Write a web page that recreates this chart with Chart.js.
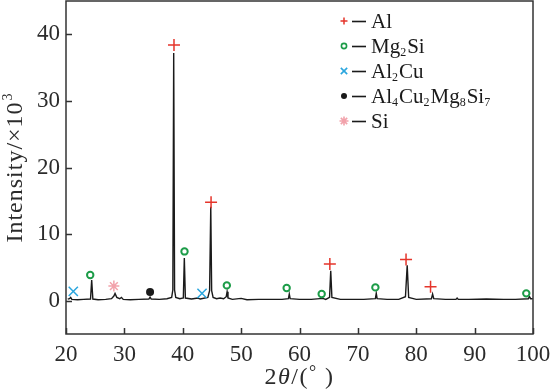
<!DOCTYPE html>
<html>
<head>
<meta charset="utf-8">
<script src="https://cdn.jsdelivr.net/npm/chart.js@4"></script>
<style>
  html, body { margin: 0; padding: 0; background: #fff; }
  #wrap { width: 553px; height: 391px; }
</style>
</head>
<body>
<div id="wrap"><canvas id="chart"></canvas></div>
<script>
// XRD trace
const twoTheta = [20.3, 20.6, 20.8, 21.0, 22.0, 23.0, 24.2, 24.4, 24.6, 25.5, 26.8, 27.8, 28.2, 28.4, 28.7, 29.2, 29.5, 29.8,
  31.0, 32.5, 34.2, 34.4, 34.6, 36.0, 37.3, 38.1, 38.3, 38.45, 38.6, 38.8, 39.5, 40.1, 40.27, 40.45, 41.5, 42.6, 43.0,
  44.3, 44.6, 44.8, 44.95, 45.2, 45.8, 46.4, 47.0, 47.45, 47.6, 47.75, 48.5, 50.0, 51.0, 53.0, 55.0, 57.0, 58.1, 58.25, 58.4,
  60.0, 62.0, 64.0, 64.5, 65.15, 65.35, 65.55, 67.0, 69.0, 71.0, 73.0, 73.15, 73.3, 75.0, 77.0, 78.15, 78.45, 78.7, 80.0,
  82.6, 82.8, 83.0, 85.0, 86.8, 87.0, 87.2, 89.0, 92.0, 95.0, 97.0, 99.2, 99.4, 99.6, 99.95]
const intensity = [0.25, 0.3, 0.5, 0.2, 0.15, 0.2, 0.25, 3.1, 0.25, 0.15, 0.2, 0.3, 0.7, 1.1, 0.5, 0.3, 0.5, 0.2,
  0.15, 0.2, 0.25, 0.55, 0.25, 0.2, 0.3, 0.5, 1.6, 37.2, 1.6, 0.5, 0.3, 0.4, 6.4, 0.4, 0.25, 0.4, 0.25,
  0.5, 1.5, 14.1, 1.5, 0.5, 0.3, 0.4, 0.3, 0.6, 1.35, 0.4, 0.2, 0.35, 0.15, 0.2, 0.2, 0.2, 0.3, 1.0, 0.3,
  0.2, 0.2, 0.35, 0.2, 0.5, 4.5, 0.5, 0.2, 0.2, 0.2, 0.3, 1.1, 0.3, 0.2, 0.2, 0.6, 5.3, 0.5, 0.2,
  0.3, 1.0, 0.3, 0.2, 0.2, 0.4, 0.2, 0.2, 0.25, 0.2, 0.2, 0.3, 0.6, 0.3, 0.3]

// phase markers
const alX = [38.5, 44.85, 65.2, 78.25, 82.45]
const alY = [38.4, 14.8, 5.5, 6.2, 2.1]
const mg2siX = [24.15, 40.3, 47.55, 57.8, 63.8, 73.0, 98.85]
const mg2siY = [3.85, 7.4, 2.3, 1.9, 1.0, 2.0, 1.1]
const al2cuX = [21.25, 43.3]
const al2cuY = [1.4, 1.1]
const quatX = [34.4]
const quatY = [1.3]
const siX = [28.2]
const siY = [2.2]

const xTicks = [20, 30, 40, 50, 60, 70, 80, 90, 100]
const yTicks = [0, 10, 20, 30, 40]

// legend text: [text, isSubscript]
const legendLabels = [
  [['Al', 0]],
  [['Mg', 0], ['2', 1], ['Si', 0]],
  [['Al', 0], ['2', 1], ['Cu', 0]],
  [['Al', 0], ['4', 1], ['Cu', 0], ['2', 1], ['Mg', 0], ['8', 1], ['Si', 0], ['7', 1]],
  [['Si', 0]]
]

const SERIF = '"Liberation Serif", "Times New Roman", serif'
const INK = '#2b2b2b'

const pts = (xs, ys) => xs.map((x, i) => ({ x, y: ys[i] }))

const markers = [
  { data: pts(alX, alY), pointStyle: 'cross', color: '#e5352b', radius: 6, lr: 3.5, bw: 1.5, fill: 'rgba(0,0,0,0)' },
  { data: pts(mg2siX, mg2siY), pointStyle: 'circle', color: '#1c9c48', radius: 3.2, lr: 2.6, bw: 2, fill: 'rgba(0,0,0,0)' },
  { data: pts(al2cuX, al2cuY), pointStyle: 'crossRot', color: '#2ba6de', radius: 6.5, lr: 4.5, bw: 1.5, fill: 'rgba(0,0,0,0)' },
  { data: pts(quatX, quatY), pointStyle: 'circle', color: '#1a1a1a', radius: 4, lr: 3, bw: 0, fill: '#1a1a1a' },
  { data: pts(siX, siY), pointStyle: 'star', color: '#f2a2ab', radius: 5.5, lr: 4.5, bw: 1.5, fill: 'rgba(0,0,0,0)' }
]

const decor = {
  id: 'decor',
  afterDraw (chart) {
    const { ctx, chartArea: a, scales } = chart
    ctx.save()
    // frame
    ctx.strokeStyle = '#333'
    ctx.lineWidth = 1.5
    ctx.strokeRect(a.left, a.top, a.right - a.left, a.bottom - a.top)
    // inward ticks
    ctx.beginPath()
    xTicks.forEach(v => {
      const px = Math.round(scales.x.getPixelForValue(v)) + 0.5
      ctx.moveTo(px, a.bottom)
      ctx.lineTo(px, a.bottom - 6)
    })
    yTicks.forEach(v => {
      const py = Math.round(scales.y.getPixelForValue(v)) + 0.5
      ctx.moveTo(a.left, py)
      ctx.lineTo(a.left + 6, py)
    })
    ctx.stroke()

    // legend
    legendLabels.forEach((segs, i) => {
      const y = 21 + i * 25
      const m = markers[i]
      ctx.strokeStyle = m.color
      ctx.fillStyle = m.fill
      Chart.helpers.drawPoint(ctx, { pointStyle: m.pointStyle, radius: m.lr, borderWidth: m.bw, rotation: 0 }, 344, y)
      ctx.strokeStyle = '#1a1a1a'
      ctx.lineWidth = 1.6
      ctx.beginPath()
      ctx.moveTo(352, y + 0.5)
      ctx.lineTo(366, y + 0.5)
      ctx.stroke()
      ctx.fillStyle = '#1a1a1a'
      ctx.textBaseline = 'alphabetic'
      let x = 371
      segs.forEach(([t, sub]) => {
        ctx.font = sub ? '12px ' + SERIF : '21px ' + SERIF
        ctx.fillText(t, x, y + (sub ? 10 : 7))
        x += ctx.measureText(t).width + (sub ? 1 : 0)
      })
    })

    // y title
    ctx.fillStyle = INK
    ctx.save()
    ctx.translate(22, (a.top + a.bottom) / 2)
    ctx.rotate(-Math.PI / 2)
    ctx.letterSpacing = '1px'
    ctx.font = '24px ' + SERIF
    const main = 'Intensity/×10'
    const w1 = ctx.measureText(main).width
    ctx.font = '14px ' + SERIF
    const w2 = ctx.measureText('3').width
    const start = -(w1 + w2 + 1) / 2
    ctx.font = '24px ' + SERIF
    ctx.textAlign = 'left'
    ctx.fillText(main, start, 0)
    ctx.font = '14px ' + SERIF
    ctx.fillText('3', start + w1 + 1, -10)
    ctx.restore()

    // x title
    ctx.letterSpacing = '1.5px'
    const parts = [['2', '24px ' + SERIF], ['θ', 'italic 24px ' + SERIF], ['/(', '24px ' + SERIF], ['°', '18px ' + SERIF], [' )', '24px ' + SERIF]]
    let tw = 0
    parts.forEach(([t, f]) => { ctx.font = f; tw += ctx.measureText(t).width })
    let xx = (a.left + a.right) / 2 - tw / 2
    parts.forEach(([t, f]) => {
      ctx.font = f
      ctx.fillText(t, xx, t === '°' ? 378 : 384)
      xx += ctx.measureText(t).width
    })
    ctx.restore()
  }
}

const datasets = [{
  data: pts(twoTheta, intensity),
  showLine: true,
  borderColor: '#1a1a1a',
  borderWidth: 1.4,
  pointRadius: 0,
  tension: 0,
  order: 1
}].concat(markers.map(m => ({
  data: m.data,
  showLine: false,
  pointStyle: m.pointStyle,
  pointRadius: m.radius,
  pointBorderWidth: m.bw,
  pointBorderColor: m.color,
  pointBackgroundColor: m.fill,
  order: 0
})))

new Chart(document.getElementById('chart'), {
  type: 'scatter',
  data: { datasets },
  options: {
    responsive: true,
    maintainAspectRatio: false,
    animation: false,
    layout: { autoPadding: false, padding: { top: 1, right: 20, left: 0, bottom: 0 } },
    plugins: { legend: { display: false }, tooltip: { enabled: false } },
    scales: {
      x: {
        min: 20,
        max: 100,
        afterFit: s => { s.height = 57; s.paddingLeft = 0; s.paddingRight = 0 },
        afterBuildTicks: s => { s.ticks = xTicks.map(v => ({ value: v })) },
        grid: { display: false, drawTicks: false },
        border: { display: false },
        ticks: { color: INK, font: { family: SERIF, size: 23 }, padding: 7, maxRotation: 0 }
      },
      y: {
        min: -5,
        max: 45,
        afterFit: s => { s.width = 66; s.paddingTop = 0; s.paddingBottom = 0 },
        afterBuildTicks: s => { s.ticks = yTicks.map(v => ({ value: v })) },
        grid: { display: false, drawTicks: false },
        border: { display: false },
        ticks: { color: INK, font: { family: SERIF, size: 23 }, padding: 6 }
      }
    }
  },
  plugins: [decor]
})
</script>
</body>
</html>
